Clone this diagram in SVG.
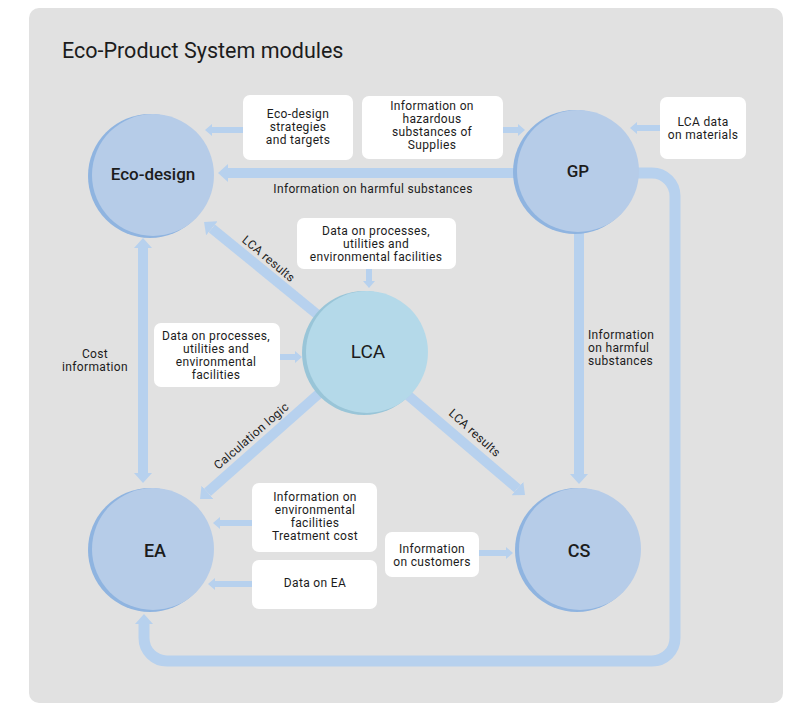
<svg xmlns="http://www.w3.org/2000/svg" width="797" height="703" viewBox="0 0 797 703">
<defs>
<style>
text{font-family:Roboto,"Liberation Sans",Arial,sans-serif;fill:#1c1c1c}
.lbl{font-size:12px;letter-spacing:0.35px}
.ctr{text-anchor:middle}
.node-t{font-weight:500;text-anchor:middle}
.box{fill:#ffffff}
.big{fill:none;stroke:#b7d1ee;stroke-width:10}
.sm{fill:none;stroke:#b7d1ee;stroke-width:6}
.cb{fill:#b6cce8}
.cbs{fill:#8fb4e0}
.cl{fill:#b4d9e9}
.cls{fill:#99c5d8}
</style>
<marker id="ab" viewBox="0 0 10 18" markerWidth="10" markerHeight="18" refX="0" refY="9" orient="auto" markerUnits="userSpaceOnUse"><path d="M0,0 L10,9 L0,18 z" fill="#b7d1ee"/></marker>
<marker id="abs" viewBox="0 0 10 18" markerWidth="10" markerHeight="18" refX="0" refY="9" orient="auto-start-reverse" markerUnits="userSpaceOnUse"><path d="M0,0 L10,9 L0,18 z" fill="#b7d1ee"/></marker>
<marker id="as" viewBox="0 0 7 12" markerWidth="7" markerHeight="12" refX="0" refY="6" orient="auto" markerUnits="userSpaceOnUse"><path d="M0,0 L7,6 L0,12 z" fill="#b7d1ee"/></marker>
</defs>
<rect x="29" y="8" width="754" height="695" rx="10" fill="#e1e1e1"/>
<text x="62" y="58" style="font-size:21.5px">Eco-Product System modules</text>

<g id="connectors">
<line class="big" x1="540" y1="173" x2="228" y2="173" marker-end="url(#ab)"/>
<line class="sm" x1="243" y1="130" x2="212" y2="130" marker-end="url(#as)"/>
<line class="sm" x1="503" y1="130" x2="518" y2="130" marker-end="url(#as)"/>
<line class="sm" x1="660" y1="128" x2="637" y2="128" marker-end="url(#as)"/>
<line class="big" x1="579" y1="200" x2="579" y2="474" marker-end="url(#ab)"/>
<path class="big" style="stroke-width:11" d="M620 173 H652 A23 23 0 0 1 675 196 V638 A23 23 0 0 1 652 661 H167 A23 23 0 0 1 144 638 V624" marker-end="url(#ab)"/>
<line class="big" x1="143" y1="248" x2="143" y2="473" marker-start="url(#abs)" marker-end="url(#abs)"/>
<line class="big" x1="340" y1="333" x2="211.8" y2="228.3" marker-end="url(#ab)"/>
<line class="big" x1="390" y1="380" x2="517.4" y2="488.5" marker-end="url(#ab)"/>
<line class="big" x1="340" y1="375" x2="207.5" y2="492.3" marker-end="url(#ab)"/>
<line class="sm" x1="369" y1="269" x2="369" y2="281" marker-end="url(#as)"/>
<line class="sm" x1="280" y1="357" x2="295" y2="357" marker-end="url(#as)"/>
<line class="sm" x1="252" y1="523" x2="220" y2="523" marker-end="url(#as)"/>
<line class="sm" x1="252" y1="584" x2="215" y2="584" marker-end="url(#as)"/>
<line class="sm" x1="479" y1="553" x2="506" y2="553" marker-end="url(#as)"/>
<text class="lbl ctr" x="373" y="193">Information on harmful substances</text>
<text class="lbl"><tspan x="588" y="339">Information</tspan><tspan x="588" y="352">on harmful</tspan><tspan x="588" y="365">substances</tspan></text>
<text class="lbl ctr"><tspan x="95" y="358">Cost</tspan><tspan x="95" y="371">information</tspan></text>
<text class="lbl ctr" transform="translate(266,262) rotate(40)">LCA results</text>
<text class="lbl ctr" transform="translate(472,436) rotate(42)">LCA results</text>
<text class="lbl ctr" transform="translate(254,439) rotate(-41)">Calculation logic</text>
</g>

<g id="box-strategies">
<rect class="box" x="243" y="95" width="110" height="65" rx="7"/>
<text class="lbl ctr"><tspan x="298" y="118">Eco-design</tspan><tspan x="298" y="131">strategies</tspan><tspan x="298" y="144">and targets</tspan></text>
</g>
<g id="box-hazardous">
<rect class="box" x="362" y="96" width="141" height="63" rx="7"/>
<text class="lbl ctr"><tspan x="432" y="110">Information on</tspan><tspan x="432" y="123">hazardous</tspan><tspan x="432" y="136">substances of</tspan><tspan x="432" y="149">Supplies</tspan></text>
</g>
<g id="box-lcadata">
<rect class="box" x="660" y="97" width="86" height="62" rx="7"/>
<text class="lbl ctr"><tspan x="703" y="126">LCA data</tspan><tspan x="703" y="139">on materials</tspan></text>
</g>
<g id="box-data-top">
<rect class="box" x="297" y="218" width="159" height="51" rx="7"/>
<text class="lbl ctr"><tspan x="376" y="235">Data on processes,</tspan><tspan x="376" y="248">utilities and</tspan><tspan x="376" y="261">environmental facilities</tspan></text>
</g>
<g id="box-data-left">
<rect class="box" x="154" y="323" width="126" height="64" rx="7"/>
<text class="lbl ctr"><tspan x="216" y="340">Data on processes,</tspan><tspan x="216" y="353">utilities and</tspan><tspan x="216" y="366">environmental</tspan><tspan x="216" y="379">facilities</tspan></text>
</g>
<g id="box-envfac">
<rect class="box" x="252" y="483" width="125" height="69" rx="7"/>
<text class="lbl ctr"><tspan x="315" y="501">Information on</tspan><tspan x="315" y="514">environmental</tspan><tspan x="315" y="527">facilities</tspan><tspan x="315" y="540">Treatment cost</tspan></text>
</g>
<g id="box-dataea">
<rect class="box" x="252" y="560" width="125" height="49" rx="7"/>
<text class="lbl ctr" x="315" y="587">Data on EA</text>
</g>
<g id="box-customers">
<rect class="box" x="385" y="532" width="94" height="45" rx="7"/>
<text class="lbl ctr"><tspan x="432" y="553">Information</tspan><tspan x="432" y="566">on customers</tspan></text>
</g>

<g id="node-ecodesign">
<circle class="cbs" cx="150" cy="176" r="62"/>
<circle class="cb" cx="153" cy="175" r="61"/>
<text class="node-t" x="153" y="180" style="font-size:17px">Eco-design</text>
</g>
<g id="node-gp">
<circle class="cbs" cx="575" cy="172" r="62"/>
<circle class="cb" cx="578" cy="171" r="61"/>
<text class="node-t" x="578" y="177" style="font-size:17px">GP</text>
</g>
<g id="node-lca">
<circle class="cls" cx="364" cy="353" r="62"/>
<circle class="cl" cx="367" cy="352" r="61"/>
<text class="ctr" x="368" y="358" style="font-size:19px">LCA</text>
</g>
<g id="node-ea">
<circle class="cbs" cx="150" cy="550" r="62"/>
<circle class="cb" cx="153" cy="549" r="61"/>
<text class="node-t" x="155" y="557" style="font-size:18px">EA</text>
</g>
<g id="node-cs">
<circle class="cbs" cx="577" cy="550" r="62"/>
<circle class="cb" cx="580" cy="549" r="61"/>
<text class="node-t" x="579" y="557" style="font-size:18px">CS</text>
</g>
</svg>
